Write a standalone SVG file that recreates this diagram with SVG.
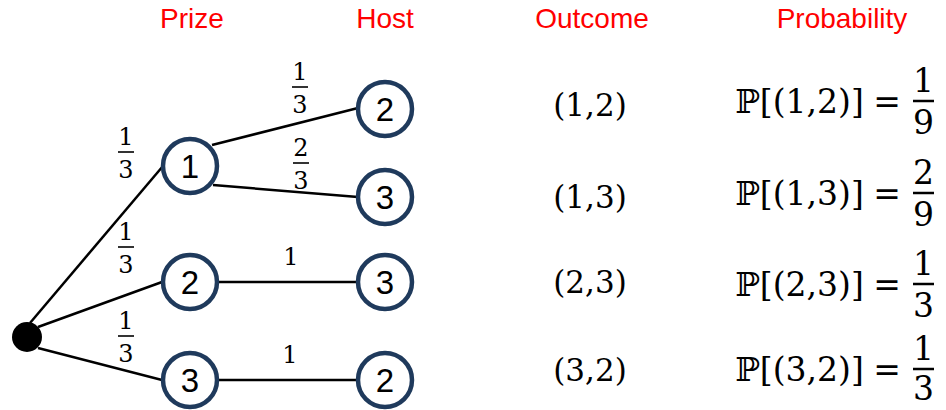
<svg xmlns="http://www.w3.org/2000/svg" width="946" height="410" viewBox="0 0 946 410">
<style>
.hdr{font-family:"Liberation Sans",Arial,sans-serif;font-size:28px;fill:#ff0000;text-anchor:middle}
.node circle{fill:#ffffff;stroke:#1f3a5c;stroke-width:4.5}
.node text{font-family:"Liberation Sans",Arial,sans-serif;font-size:33px;fill:#000;text-anchor:middle}
.edge{stroke:#000;stroke-width:2.5;fill:none}
.fr{font-family:"DejaVu Serif","Liberation Serif",serif;font-size:24px;fill:#000;text-anchor:middle}
.bar{stroke:#000;stroke-width:1.6}
.out{font-family:"DejaVu Serif","Liberation Serif",serif;font-size:31px;fill:#000;text-anchor:middle}
.fm{font-family:"DejaVu Serif","Liberation Serif",serif;font-size:33px;fill:#000}
.fmc{font-family:"DejaVu Serif","Liberation Serif",serif;font-size:33px;fill:#000;text-anchor:middle}
.fbar{stroke:#000;stroke-width:2.5}
</style>
<g id="headers">
<text class="hdr" x="192" y="28">Prize</text>
<text class="hdr" x="385" y="28">Host</text>
<text class="hdr" x="592" y="28">Outcome</text>
<text class="hdr" x="842" y="28">Probability</text>
</g>
<g id="connectors">
<line class="edge" x1="30" y1="323" x2="163" y2="166"/>
<line class="edge" x1="38" y1="327" x2="162" y2="282"/>
<line class="edge" x1="38" y1="348" x2="162" y2="380"/>
<line class="edge" x1="212" y1="145" x2="358" y2="108"/>
<line class="edge" x1="213" y1="185" x2="358" y2="197"/>
<line class="edge" x1="218" y1="282" x2="358" y2="282"/>
<line class="edge" x1="218" y1="380" x2="358" y2="380"/>
</g>
<g id="edge-labels">
<text class="fr" x="126" y="145">1</text><line class="bar" x1="118" y1="152" x2="134" y2="152"/><text class="fr" x="126" y="178">3</text>
<text class="fr" x="126" y="240">1</text><line class="bar" x1="118" y1="247" x2="134" y2="247"/><text class="fr" x="126" y="273">3</text>
<text class="fr" x="126" y="329">1</text><line class="bar" x1="118" y1="336" x2="134" y2="336"/><text class="fr" x="126" y="362">3</text>
<text class="fr" x="300" y="80">1</text><line class="bar" x1="292" y1="87" x2="308" y2="87"/><text class="fr" x="300" y="113">3</text>
<text class="fr" x="301" y="156">2</text><line class="bar" x1="293" y1="163" x2="309" y2="163"/><text class="fr" x="301" y="189">3</text>
<text class="fr" x="291" y="265">1</text>
<text class="fr" x="290" y="363">1</text>
</g>
<g id="root"><circle cx="27" cy="337" r="15" fill="#000"/></g>
<g id="prize1" class="node"><circle cx="190" cy="166" r="27"/><text x="190" y="178">1</text></g>
<g id="prize2" class="node"><circle cx="190" cy="282" r="27"/><text x="190" y="294">2</text></g>
<g id="prize3" class="node"><circle cx="190" cy="380" r="27"/><text x="190" y="392">3</text></g>
<g id="host12" class="node"><circle cx="385" cy="109" r="27"/><text x="385" y="121">2</text></g>
<g id="host13" class="node"><circle cx="385" cy="197" r="27"/><text x="385" y="209">3</text></g>
<g id="host23" class="node"><circle cx="385" cy="282" r="27"/><text x="385" y="294">3</text></g>
<g id="host32" class="node"><circle cx="385" cy="380" r="27"/><text x="385" y="392">2</text></g>
<g id="outcomes">
<text class="out" x="590" y="116">(1,2)</text>
<text class="out" x="590" y="208">(1,3)</text>
<text class="out" x="590" y="293">(2,3)</text>
<text class="out" x="590" y="381">(3,2)</text>
</g>
<g id="probabilities">
<text class="fm" x="735" y="113">ℙ[(1,2)]</text><text class="fmc" x="887" y="113">=</text>
<line class="fbar" x1="913" y1="101" x2="934" y2="101"/><text class="fmc" x="923.5" y="92">1</text><text class="fmc" x="923.5" y="134">9</text>
<text class="fm" x="735" y="205">ℙ[(1,3)]</text><text class="fmc" x="887" y="205">=</text>
<line class="fbar" x1="913" y1="193" x2="934" y2="193"/><text class="fmc" x="923.5" y="184">2</text><text class="fmc" x="923.5" y="226">9</text>
<text class="fm" x="735" y="296">ℙ[(2,3)]</text><text class="fmc" x="887" y="296">=</text>
<line class="fbar" x1="913" y1="284" x2="934" y2="284"/><text class="fmc" x="923.5" y="275">1</text><text class="fmc" x="923.5" y="317">3</text>
<text class="fm" x="735" y="381">ℙ[(3,2)]</text><text class="fmc" x="887" y="381">=</text>
<line class="fbar" x1="913" y1="369" x2="934" y2="369"/><text class="fmc" x="923.5" y="360">1</text><text class="fmc" x="923.5" y="400">3</text>
</g>
</svg>
